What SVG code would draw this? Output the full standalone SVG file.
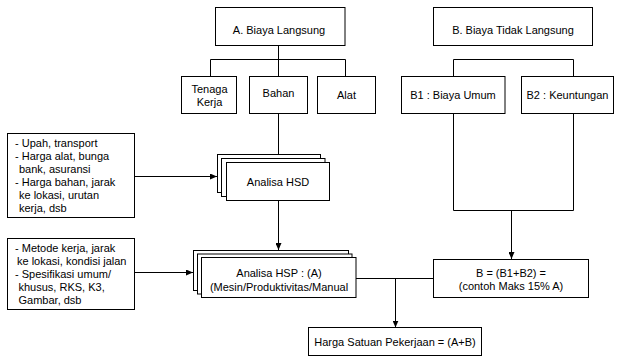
<svg xmlns="http://www.w3.org/2000/svg" width="620" height="356" viewBox="0 0 620 356">
<style>
.box{fill:#fff;stroke:#000;stroke-width:1}
.ln{fill:none;stroke:#000;stroke-width:1}
text{font-family:"Liberation Sans",Arial,sans-serif;font-size:11px;fill:#000}
.c{text-anchor:middle}
</style>
<defs>
<marker id="ah" markerWidth="7" markerHeight="6" refX="7" refY="3" orient="auto" markerUnits="userSpaceOnUse">
<path d="M0,0 L7,3 L0,6 z" fill="#000"/>
</marker>
</defs>
<rect width="620" height="356" fill="#fff"/>
<g id="connectors">
<path class="ln" d="M278.5,45.5 V76.5 M210.5,76.5 V59.5 H345.5 V76.5"/>
<path class="ln" d="M278.5,113.5 V154.5"/>
<path class="ln" d="M278.5,200.5 V250" marker-end="url(#ah)"/>
<path class="ln" d="M134.5,176.5 H217" marker-end="url(#ah)"/>
<path class="ln" d="M134.5,272.5 H193" marker-end="url(#ah)"/>
<path class="ln" d="M453.5,76.5 V59.5 H573.5 V76.5"/>
<path class="ln" d="M453.5,113.5 V210.5 H573.5 V113.5"/>
<path class="ln" d="M511.5,210.5 V259" marker-end="url(#ah)"/>
<path class="ln" d="M356,278.5 H433.5"/>
<path class="ln" d="M395.5,278.5 V327.5" marker-end="url(#ah)"/>
</g>
<g id="biaya-langsung">
<rect class="box" x="215.5" y="7.5" width="129.5" height="38"/>
<text class="c" x="279" y="34">A. Biaya Langsung</text>
</g>
<g id="tenaga-kerja">
<rect class="box" x="181.5" y="76.5" width="55" height="37"/>
<text class="c" x="209.5" y="92.5">Tenaga</text>
<text class="c" x="209.5" y="106">Kerja</text>
</g>
<g id="bahan">
<rect class="box" x="249.5" y="76.5" width="58" height="37"/>
<text class="c" x="278.5" y="96.5">Bahan</text>
</g>
<g id="alat">
<rect class="box" x="317.5" y="76.5" width="58" height="37"/>
<text class="c" x="346.5" y="98.5">Alat</text>
</g>
<g id="biaya-tidak-langsung">
<rect class="box" x="433.5" y="7.5" width="159" height="38"/>
<text class="c" x="513" y="34">B. Biaya Tidak Langsung</text>
</g>
<g id="b1">
<rect class="box" x="401.5" y="76.5" width="103.5" height="37"/>
<text class="c" x="453" y="99">B1 : Biaya Umum</text>
</g>
<g id="b2">
<rect class="box" x="521.5" y="76.5" width="92" height="37"/>
<text class="c" x="567.5" y="99">B2 : Keuntungan</text>
</g>
<g id="input-hsd">
<rect class="box" x="7.5" y="133.5" width="127" height="84"/>
<text x="15" y="147">- Upah, transport</text>
<text x="15" y="160">- Harga alat, bunga</text>
<text x="19" y="173">bank, asuransi</text>
<text x="15" y="186">- Harga bahan, jarak</text>
<text x="19" y="199">ke lokasi, urutan</text>
<text x="19" y="212">kerja, dsb</text>
</g>
<g id="analisa-hsd">
<rect class="box" x="217.5" y="154.5" width="103" height="38"/>
<rect class="box" x="221.5" y="158.5" width="103.5" height="38"/>
<rect class="box" x="226.5" y="162.5" width="103" height="38"/>
<text class="c" x="278" y="185.5">Analisa HSD</text>
</g>
<g id="input-hsp">
<rect class="box" x="7.5" y="238.5" width="127" height="71"/>
<text x="15" y="252">- Metode kerja, jarak</text>
<text x="17" y="265">ke lokasi, kondisi jalan</text>
<text x="15" y="278">- Spesifikasi umum/</text>
<text x="18.5" y="290.5">khusus, RKS, K3,</text>
<text x="18.5" y="303.5">Gambar, dsb</text>
</g>
<g id="analisa-hsp">
<rect class="box" x="193.5" y="250.5" width="155" height="40"/>
<rect class="box" x="197.5" y="254" width="154.5" height="40"/>
<rect class="box" x="201.5" y="257.5" width="154.5" height="40"/>
<text class="c" x="279" y="277">Analisa HSP : (A)</text>
<text class="c" x="279" y="291">(Mesin/Produktivitas/Manual</text>
</g>
<g id="b-total">
<rect class="box" x="433.5" y="259.5" width="155" height="38"/>
<text class="c" x="511" y="276.5">B = (B1+B2) =</text>
<text class="c" x="511" y="290">(contoh Maks 15% A)</text>
</g>
<g id="harga-satuan">
<rect class="box" x="308.5" y="327.5" width="173" height="28"/>
<text class="c" x="395" y="345.5">Harga Satuan Pekerjaan = (A+B)</text>
</g>
</svg>
